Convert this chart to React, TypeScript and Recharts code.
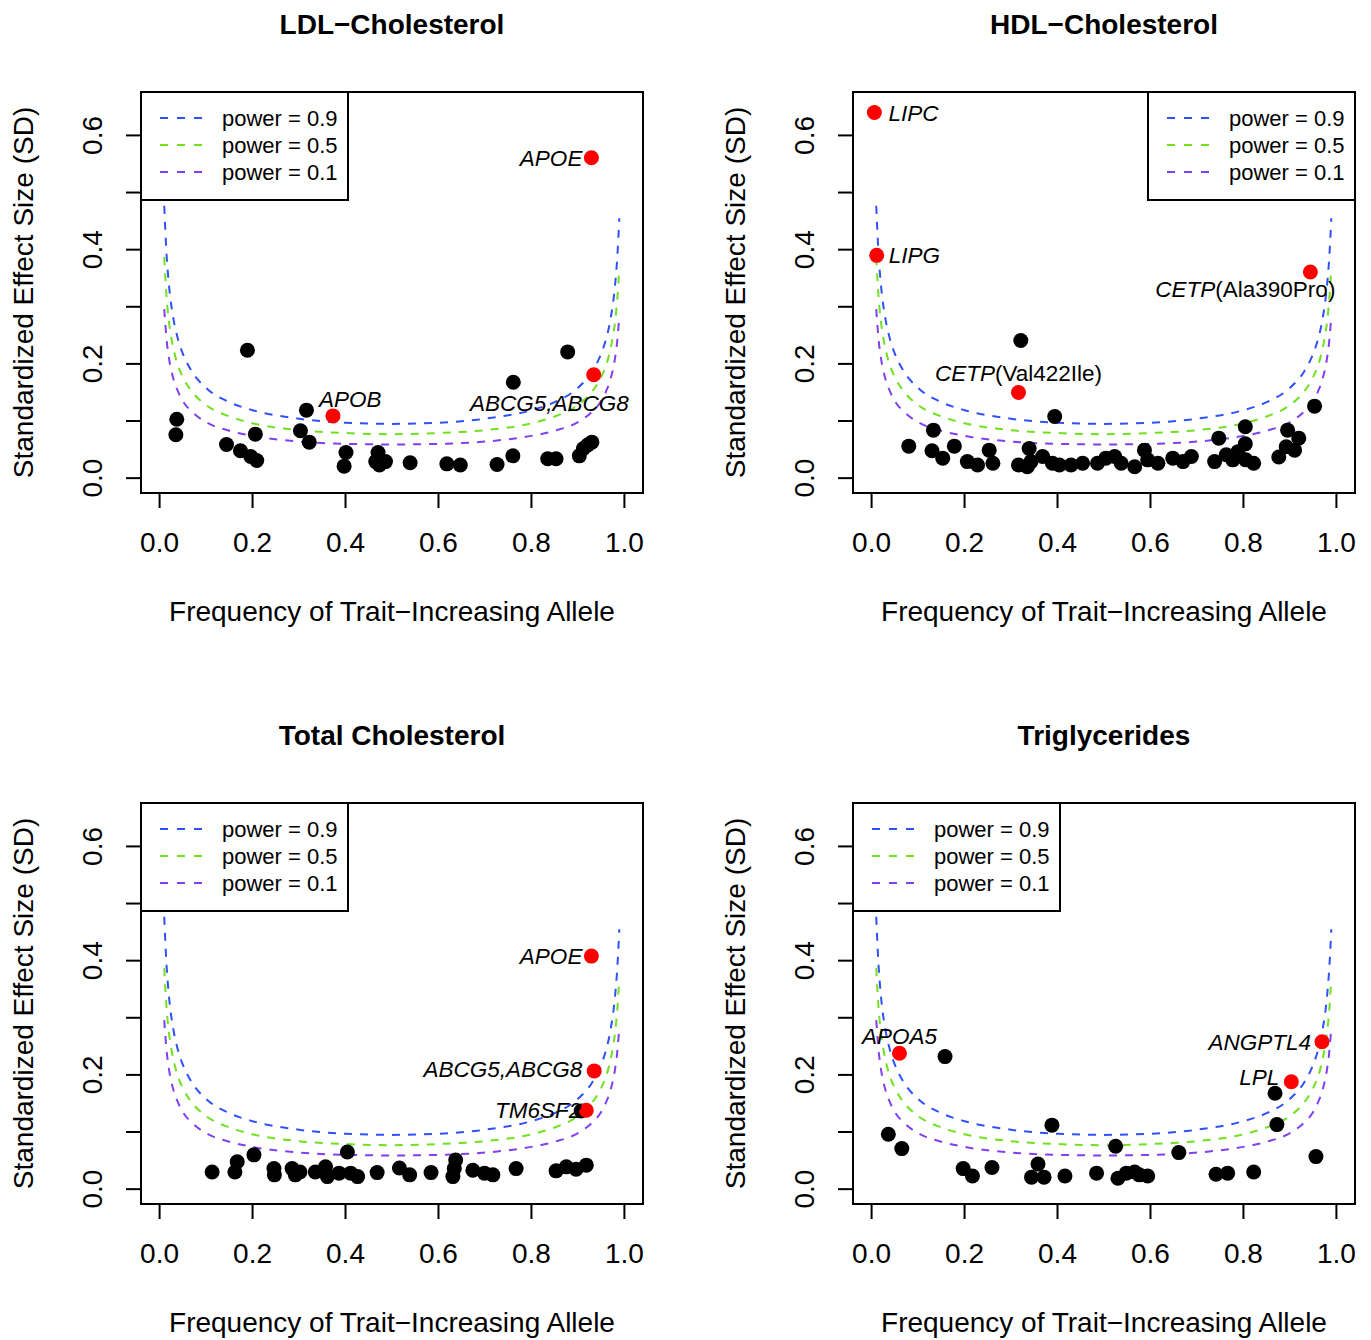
import React from 'react';
import { ComposedChart, XAxis, YAxis, Line, Scatter, ReferenceArea } from 'recharts';

const FONT = '"Liberation Sans", Arial, Helvetica, sans-serif';

// power curves (identical in all four panels)
const curveFreq = [0.01, 0.015, 0.02, 0.03, 0.04, 0.05, 0.07, 0.1, 0.15, 0.2, 0.3, 0.4, 0.5, 0.6, 0.7, 0.8, 0.85, 0.9, 0.93, 0.95, 0.96, 0.97, 0.98, 0.985, 0.989];
const power90 = [0.477, 0.391, 0.339, 0.278, 0.242, 0.218, 0.186, 0.158, 0.133, 0.119, 0.104, 0.097, 0.095, 0.097, 0.104, 0.119, 0.133, 0.158, 0.186, 0.218, 0.242, 0.278, 0.339, 0.391, 0.455];
const power50 = [0.387, 0.317, 0.275, 0.226, 0.196, 0.177, 0.151, 0.128, 0.108, 0.096, 0.084, 0.079, 0.077, 0.079, 0.084, 0.096, 0.108, 0.128, 0.151, 0.177, 0.196, 0.226, 0.275, 0.317, 0.369];
const power10 = [0.296, 0.243, 0.211, 0.173, 0.151, 0.135, 0.116, 0.098, 0.083, 0.074, 0.064, 0.060, 0.059, 0.060, 0.064, 0.074, 0.083, 0.098, 0.116, 0.135, 0.151, 0.173, 0.211, 0.243, 0.283];

const xTicks = [0, 0.2, 0.4, 0.6, 0.8, 1];
const yTicks = [0, 0.1, 0.2, 0.3, 0.4, 0.5, 0.6];

// LDL
const ldlFreq = [0.035, 0.037, 0.144, 0.174, 0.189, 0.196, 0.206, 0.209, 0.303, 0.316, 0.322, 0.397, 0.401, 0.465, 0.470, 0.473, 0.486, 0.539, 0.618, 0.647, 0.726, 0.760, 0.761, 0.835, 0.853, 0.878, 0.903, 0.912, 0.921, 0.930];
const ldlEffect = [0.076, 0.103, 0.059, 0.048, 0.224, 0.038, 0.077, 0.031, 0.083, 0.119, 0.063, 0.021, 0.045, 0.029, 0.045, 0.023, 0.029, 0.027, 0.025, 0.023, 0.024, 0.039, 0.168, 0.034, 0.034, 0.221, 0.039, 0.052, 0.058, 0.063];
const ldlGenes = ['APOB', 'ABCG5,ABCG8', 'APOE'];
const ldlGeneFreq = [0.373, 0.934, 0.929];
const ldlGeneEffect = [0.109, 0.181, 0.561];

// HDL
const hdlFreq = [0.080, 0.130, 0.133, 0.153, 0.178, 0.206, 0.228, 0.253, 0.261, 0.316, 0.321, 0.335, 0.339, 0.343, 0.368, 0.389, 0.394, 0.404, 0.429, 0.454, 0.486, 0.504, 0.523, 0.537, 0.566, 0.587, 0.594, 0.616, 0.648, 0.670, 0.688, 0.738, 0.747, 0.763, 0.777, 0.788, 0.804, 0.804, 0.805, 0.822, 0.876, 0.892, 0.895, 0.910, 0.919, 0.953];
const hdlEffect = [0.056, 0.048, 0.084, 0.035, 0.056, 0.029, 0.023, 0.049, 0.026, 0.023, 0.241, 0.020, 0.052, 0.029, 0.038, 0.026, 0.108, 0.023, 0.023, 0.026, 0.026, 0.035, 0.038, 0.026, 0.020, 0.049, 0.032, 0.026, 0.035, 0.029, 0.038, 0.029, 0.070, 0.041, 0.032, 0.046, 0.060, 0.090, 0.032, 0.026, 0.037, 0.055, 0.084, 0.049, 0.070, 0.126];
const hdlGenes = ['LIPC', 'LIPG', 'CETP(Val422Ile)', 'CETP(Ala390Pro)'];
const hdlGeneFreq = [0.006, 0.011, 0.316, 0.944];
const hdlGeneEffect = [0.640, 0.390, 0.150, 0.361];

// Total cholesterol
const tcFreq = [0.113, 0.162, 0.167, 0.203, 0.246, 0.247, 0.285, 0.292, 0.302, 0.335, 0.357, 0.361, 0.386, 0.404, 0.411, 0.426, 0.468, 0.516, 0.538, 0.584, 0.631, 0.634, 0.637, 0.674, 0.699, 0.717, 0.767, 0.853, 0.875, 0.896, 0.907, 0.918];
const tcEffect = [0.030, 0.030, 0.048, 0.060, 0.036, 0.025, 0.036, 0.025, 0.030, 0.030, 0.039, 0.022, 0.028, 0.065, 0.028, 0.022, 0.029, 0.037, 0.025, 0.029, 0.022, 0.036, 0.051, 0.033, 0.028, 0.025, 0.036, 0.032, 0.039, 0.035, 0.137, 0.042];
const tcGenes = ['APOE', 'ABCG5,ABCG8', 'TM6SF2'];
const tcGeneFreq = [0.929, 0.935, 0.918];
const tcGeneEffect = [0.408, 0.207, 0.138];

// Triglycerides
const tgFreq = [0.036, 0.065, 0.158, 0.197, 0.217, 0.259, 0.344, 0.358, 0.371, 0.388, 0.416, 0.484, 0.525, 0.530, 0.548, 0.566, 0.576, 0.594, 0.661, 0.741, 0.766, 0.822, 0.868, 0.872, 0.956];
const tgEffect = [0.096, 0.071, 0.232, 0.036, 0.023, 0.038, 0.021, 0.044, 0.021, 0.112, 0.023, 0.028, 0.075, 0.019, 0.028, 0.030, 0.025, 0.023, 0.064, 0.026, 0.028, 0.030, 0.168, 0.113, 0.057];
const tgGenes = ['APOA5', 'LPL', 'ANGPTL4'];
const tgGeneFreq = [0.060, 0.903, 0.969];
const tgGeneEffect = [0.238, 0.188, 0.258];

type Placement = { anchor: 'start' | 'middle' | 'end'; dx: number; dy: number };

// where each gene name sits relative to its point (pixels)
const ldlPlace: Record<string, Placement> = {
  APOB: { anchor: 'start', dx: -14, dy: -9 },
  'ABCG5,ABCG8': { anchor: 'end', dx: 35, dy: 36 },
  APOE: { anchor: 'end', dx: -9, dy: 8 },
};
const hdlPlace: Record<string, Placement> = {
  LIPC: { anchor: 'start', dx: 14, dy: 8 },
  LIPG: { anchor: 'start', dx: 12, dy: 8 },
  'CETP(Val422Ile)': { anchor: 'middle', dx: 0, dy: -11 },
  'CETP(Ala390Pro)': { anchor: 'end', dx: 25, dy: 25 },
};
const tcPlace: Record<string, Placement> = {
  APOE: { anchor: 'end', dx: -9, dy: 8 },
  'ABCG5,ABCG8': { anchor: 'end', dx: -12, dy: 6 },
  TM6SF2: { anchor: 'end', dx: -5, dy: 8 },
};
const tgPlace: Record<string, Placement> = {
  APOA5: { anchor: 'middle', dx: 0, dy: -9 },
  ANGPTL4: { anchor: 'end', dx: -11, dy: 8 },
  LPL: { anchor: 'end', dx: -12, dy: 3 },
};

const toPoints = (xs: number[], ys: number[]) => xs.map((x, i) => ({ x, y: ys[i] }));

const curves = [
  { name: 'power = 0.9', color: '#3050F8', data: toPoints(curveFreq, power90) },
  { name: 'power = 0.5', color: '#70E020', data: toPoints(curveFreq, power50) },
  { name: 'power = 0.1', color: '#8040F0', data: toPoints(curveFreq, power10) },
];

const CW = 655;
const CH = 625;
const OH = 629; // overlay height, room for descenders of the x title
const PL = 141;
const PT = 92;
const PW = 502;
const PH = 401;

const XTick = (props: any) => {
  const { x, y, payload } = props;
  return (
    <text x={x} y={y + 44} textAnchor="middle" fontSize={28} fontFamily={FONT} fill="#000">
      {Number(payload.value).toFixed(1)}
    </text>
  );
};

const YTick = (props: any) => {
  const { x, y, payload } = props;
  const v = Number(payload.value);
  if (Math.round(v * 10) % 2 !== 0) return <g />;
  const tx = x - 24;
  return (
    <text x={tx} y={y} transform={`rotate(-90, ${tx}, ${y})`} textAnchor="middle" fontSize={28} fontFamily={FONT} fill="#000">
      {v.toFixed(1)}
    </text>
  );
};

const BlackDot = (props: any) => <circle cx={props.cx} cy={props.cy} r={7.5} fill="#000" />;

const makeHit = (place: Record<string, Placement>) => (props: any) => {
  const gene: string = props.payload.gene;
  const p = place[gene];
  const i = gene.indexOf('(');
  const ital = i >= 0 ? gene.slice(0, i) : gene;
  const rest = i >= 0 ? gene.slice(i) : '';
  return (
    <g>
      <circle cx={props.cx} cy={props.cy} r={7.5} fill="#FF0000" />
      <text x={props.cx + p.dx} y={props.cy + p.dy} textAnchor={p.anchor} fontSize={22.5} fontFamily={FONT} fill="#000">
        <tspan fontStyle="italic">{ital}</tspan>
        {rest ? <tspan>{rest}</tspan> : null}
      </text>
    </g>
  );
};

type PanelProps = {
  title: string;
  freq: number[];
  effect: number[];
  genes: string[];
  geneFreq: number[];
  geneEffect: number[];
  place: Record<string, Placement>;
  legendRight: boolean;
  left: number;
  top: number;
};

function Panel({ title, freq, effect, genes, geneFreq, geneEffect, place, legendRight, left, top }: PanelProps) {
  const black = toPoints(freq, effect);
  const hits = genes.map((g, i) => ({ x: geneFreq[i], y: geneEffect[i], gene: g }));
  const bx = legendRight ? PL + PW - 207 : PL;
  const by = PT;
  return (
    <div style={{ position: 'absolute', left, top, width: CW, height: OH }}>
      <ComposedChart width={CW} height={CH} margin={{ top: PT, left: PL - 60, right: CW - PL - PW, bottom: CH - PT - PH - 40 }}>
        <XAxis
          type="number"
          dataKey="x"
          domain={[-0.04, 1.04]}
          ticks={xTicks}
          interval={0}
          allowDataOverflow
          axisLine={false}
          tickLine={{ stroke: '#000', strokeWidth: 2 }}
          tickSize={15}
          tickMargin={0}
          height={40}
          tick={<XTick />}
        />
        <YAxis
          type="number"
          dataKey="y"
          domain={[-0.026, 0.676]}
          ticks={yTicks}
          interval={0}
          allowDataOverflow
          axisLine={false}
          tickLine={{ stroke: '#000', strokeWidth: 2 }}
          tickSize={15}
          tickMargin={0}
          width={60}
          tick={<YTick />}
        />
        <ReferenceArea x1={-0.04} x2={1.04} y1={-0.026} y2={0.676} fill="none" fillOpacity={0} stroke="#000" strokeWidth={2} />
        {curves.map((c) => (
          <Line
            key={c.name}
            data={c.data}
            dataKey="y"
            type="monotone"
            stroke={c.color}
            strokeWidth={2}
            strokeDasharray="8 8"
            dot={false}
            activeDot={false}
            isAnimationActive={false}
          />
        ))}
        <Scatter data={black} shape={BlackDot} isAnimationActive={false} />
        <Scatter data={hits} shape={makeHit(place)} isAnimationActive={false} />
      </ComposedChart>
      <svg width={CW} height={OH} style={{ position: 'absolute', left: 0, top: 0, pointerEvents: 'none' }}>
        <text x={PL + PW / 2} y={34} textAnchor="middle" fontSize={28} fontWeight="bold" fontFamily={FONT} fill="#000">
          {title}
        </text>
        <text x={PL + PW / 2} y={621} textAnchor="middle" fontSize={28} fontFamily={FONT} fill="#000">
          Frequency of Trait−Increasing Allele
        </text>
        <text x={33} y={PT + PH / 2} transform={`rotate(-90, 33, ${PT + PH / 2})`} textAnchor="middle" fontSize={28} fontFamily={FONT} fill="#000">
          Standardized Effect Size (SD)
        </text>
        <rect x={bx} y={by} width={207} height={108} fill="#fff" stroke="#000" strokeWidth={2} />
        {curves.map((c, i) => (
          <g key={c.name}>
            <line x1={bx + 19} x2={bx + 62} y1={by + 26 + i * 27} y2={by + 26 + i * 27} stroke={c.color} strokeWidth={2} strokeDasharray="8 9" />
            <text x={bx + 81} y={by + 34 + i * 27} fontSize={22} fontFamily={FONT} fill="#000">
              {c.name}
            </text>
          </g>
        ))}
      </svg>
    </div>
  );
}

export default function App() {
  return (
    <div style={{ position: 'absolute', left: 0, top: 0, width: 1371, height: 1340, background: '#fff', overflow: 'hidden' }}>
      <Panel title="LDL−Cholesterol" freq={ldlFreq} effect={ldlEffect} genes={ldlGenes} geneFreq={ldlGeneFreq} geneEffect={ldlGeneEffect} place={ldlPlace} legendRight={false} left={0} top={0} />
      <Panel title="HDL−Cholesterol" freq={hdlFreq} effect={hdlEffect} genes={hdlGenes} geneFreq={hdlGeneFreq} geneEffect={hdlGeneEffect} place={hdlPlace} legendRight={true} left={712} top={0} />
      <Panel title="Total Cholesterol" freq={tcFreq} effect={tcEffect} genes={tcGenes} geneFreq={tcGeneFreq} geneEffect={tcGeneEffect} place={tcPlace} legendRight={false} left={0} top={711} />
      <Panel title="Triglycerides" freq={tgFreq} effect={tgEffect} genes={tgGenes} geneFreq={tgGeneFreq} geneEffect={tgGeneEffect} place={tgPlace} legendRight={false} left={712} top={711} />
    </div>
  );
}
